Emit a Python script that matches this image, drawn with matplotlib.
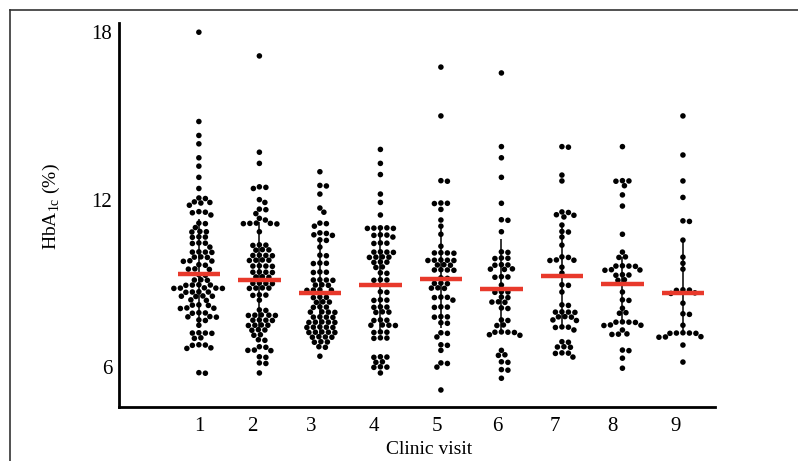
import numpy as np
import matplotlib
matplotlib.use('Agg')
import matplotlib.pyplot as plt
from matplotlib.lines import Line2D

# ------------------------------------------------------------
# DATA
# ------------------------------------------------------------
visits = [1, 2, 3, 4, 5, 6, 7, 8, 9]
tick_labels = ['1', '2', '3', '4', '5', '6', '7', '8', '9']

visit1 = [18.0, 14.8, 14.3, 14.0, 13.5, 13.2, 12.8, 12.4, 12.06, 12.04,
          11.92, 11.9, 11.88, 11.8, 11.57, 11.55, 11.53, 11.45, 11.16, 11.14,
          11.0, 10.86, 10.85, 10.84, 10.67, 10.66, 10.65, 10.45, 10.44, 10.43,
          10.3, 10.13, 10.12, 10.12, 10.11, 9.95, 9.94, 9.93, 9.81, 9.8,
          9.79, 9.67, 9.65, 9.52, 9.51, 9.5, 9.31, 9.29, 9.13, 9.12,
          9.11, 8.95, 8.94, 8.94, 8.93, 8.84, 8.83, 8.83, 8.82, 8.82,
          8.7, 8.69, 8.69, 8.68, 8.55, 8.54, 8.54, 8.53, 8.41, 8.39,
          8.23, 8.22, 8.21, 8.12, 8.11, 8.1, 7.95, 7.94, 7.93, 7.81,
          7.8, 7.79, 7.69, 7.67, 7.5, 7.23, 7.22, 7.22, 7.21, 7.05,
          7.03, 6.8, 6.79, 6.78, 6.69, 6.67, 5.8, 5.78]

visit2 = [17.15, 13.7, 13.3, 12.46, 12.44, 12.4, 12.0, 11.9, 11.66, 11.64,
          11.5, 11.33, 11.27, 11.16, 11.15, 11.15, 11.14, 11.13, 10.85, 10.38,
          10.37, 10.36, 10.21, 10.2, 10.19, 10.01, 10.0, 10.0, 9.99, 9.84,
          9.83, 9.83, 9.82, 9.63, 9.62, 9.62, 9.61, 9.41, 9.4, 9.4,
          9.39, 9.24, 9.23, 9.22, 9.01, 9.0, 9.0, 8.99, 8.84, 8.83,
          8.83, 8.82, 8.59, 8.58, 8.57, 8.4, 8.05, 8.03, 7.87, 7.86,
          7.86, 7.85, 7.85, 7.69, 7.68, 7.68, 7.67, 7.51, 7.5, 7.5,
          7.49, 7.34, 7.33, 7.32, 7.16, 7.14, 6.98, 6.96, 6.73, 6.71,
          6.61, 6.6, 6.59, 6.37, 6.35, 6.15, 6.13, 5.79]

visit3 = [13.0, 12.51, 12.49, 12.2, 11.7, 11.55, 11.16, 11.14, 11.05, 10.81,
          10.79, 10.74, 10.72, 10.56, 10.54, 10.3, 10.01, 9.99, 9.73, 9.72,
          9.71, 9.41, 9.4, 9.39, 9.13, 9.12, 9.12, 9.11, 8.95, 8.94,
          8.93, 8.77, 8.76, 8.76, 8.75, 8.51, 8.5, 8.49, 8.34, 8.33,
          8.32, 8.16, 8.15, 8.14, 7.98, 7.97, 7.97, 7.96, 7.8, 7.79,
          7.79, 7.78, 7.62, 7.61, 7.61, 7.6, 7.6, 7.44, 7.43, 7.43,
          7.42, 7.42, 7.26, 7.25, 7.25, 7.24, 7.24, 7.09, 7.08, 7.07,
          7.07, 6.91, 6.9, 6.89, 6.73, 6.71, 6.39]

visit4 = [13.8, 13.3, 12.9, 12.2, 11.9, 11.45, 10.99, 10.98, 10.97, 10.66,
          10.99, 10.97, 10.74, 10.73, 10.72, 10.45, 10.44, 10.43, 10.13, 10.12,
          10.12, 10.11, 9.95, 9.94, 9.94, 9.93, 9.77, 9.76, 9.75, 9.59,
          9.57, 9.38, 9.36, 9.13, 9.12, 9.11, 8.7, 8.68, 8.41, 8.4,
          8.39, 8.16, 8.15, 8.14, 7.98, 7.97, 7.96, 7.69, 7.68, 7.67,
          7.51, 7.5, 7.5, 7.49, 7.26, 7.25, 7.24, 7.05, 7.04, 7.03,
          6.37, 6.36, 6.35, 6.19, 6.17, 6.01, 6.0, 5.99, 5.79]

visit5 = [16.75, 15.0, 12.68, 12.66, 11.88, 11.87, 11.86, 11.65, 11.27, 11.05,
          10.76, 10.33, 10.1, 10.09, 10.09, 10.08, 9.84, 9.83, 9.83, 9.82,
          9.82, 9.67, 9.66, 9.65, 9.49, 9.48, 9.48, 9.47, 9.2, 9.18,
          9.01, 9.0, 8.99, 8.84, 8.83, 8.82, 8.51, 8.5, 8.49, 8.4,
          8.16, 8.15, 8.14, 7.81, 7.8, 7.79, 7.59, 7.57, 7.23, 7.21,
          7.08, 6.8, 6.78, 6.6, 6.15, 6.13, 6.0, 5.18]

visit6 = [16.54, 13.9, 13.5, 12.8, 11.87, 11.28, 11.26, 10.85, 10.13, 10.11,
          9.91, 9.9, 9.89, 9.67, 9.66, 9.65, 9.52, 9.51, 9.5, 9.24,
          9.23, 9.22, 8.94, 8.7, 8.69, 8.68, 8.51, 8.49, 8.34, 8.33,
          8.32, 8.12, 8.1, 7.69, 7.67, 7.51, 7.49, 7.26, 7.25, 7.25,
          7.24, 7.16, 7.14, 6.6, 6.44, 6.42, 6.19, 6.17, 5.91, 5.89,
          5.6]

visit7 = [13.9, 13.88, 12.88, 12.67, 11.56, 11.54, 11.46, 11.44, 11.38, 11.09,
          10.86, 10.84, 10.66, 10.37, 9.95, 9.93, 9.84, 9.83, 9.82, 9.58,
          9.37, 8.95, 8.93, 8.69, 8.23, 8.21, 7.98, 7.97, 7.97, 7.96,
          7.81, 7.8, 7.79, 7.69, 7.67, 7.44, 7.43, 7.42, 7.33, 6.91,
          6.89, 6.73, 6.72, 6.71, 6.51, 6.5, 6.49, 6.36]

visit8 = [13.9, 12.68, 12.67, 12.66, 12.5, 12.17, 11.77, 10.76, 10.12, 9.95,
          9.93, 9.63, 9.62, 9.62, 9.61, 9.49, 9.48, 9.47, 9.31, 9.3,
          9.29, 9.13, 9.11, 8.69, 8.41, 8.39, 8.11, 7.95, 7.93, 7.62,
          7.61, 7.61, 7.6, 7.51, 7.5, 7.49, 7.33, 7.19, 7.18, 7.17,
          6.61, 6.59, 6.32, 5.96]

visit9 = [15.0, 13.6, 12.67, 12.08, 11.24, 11.22, 10.55, 9.94, 9.72, 9.51,
          8.77, 8.76, 8.75, 8.66, 8.64, 8.29, 7.91, 7.89, 7.5, 7.23,
          7.22, 7.22, 7.21, 7.21, 7.09, 7.08, 7.07, 6.79, 6.18]

groups = [visit1, visit2, visit3, visit4, visit5, visit6, visit7, visit8, visit9]

# red median bars and black spread bars
medians = [9.33, 9.12, 8.65, 8.94, 9.15, 8.8, 9.26, 8.97, 8.65]
spread_low = [7.4, 7.3, 7.1, 7.2, 7.4, 7.2, 7.4, 7.58, 7.22]
spread_high = [11.3, 11.2, 10.6, 10.9, 11.0, 10.6, 11.09, 9.94, 10.55]

# ------------------------------------------------------------
# LAYOUT
# ------------------------------------------------------------
W, H = 798, 461
TICK_POS = [1.0, 1.89, 2.85, 3.89, 4.93, 5.94, 6.88, 7.83, 8.87]
SERIF = ['Liberation Serif', 'DejaVu Serif']

plt.rcParams['font.family'] = SERIF
plt.rcParams['mathtext.fontset'] = 'custom'
plt.rcParams['mathtext.rm'] = 'Liberation Serif'

fig = plt.figure(figsize=(W / 100, H / 100), dpi=100)
ax = fig.add_axes([119 / W, 1 - 407 / H, (715 - 119) / W, (407 - 23) / H])
ax.set_xlim(-0.32, 9.53)
ax.set_ylim(4.57, 18.33)


def swarm_offsets(vals, ax, wx=6.2, wy=5.2):
    """Greedy beeswarm in pixel space; returns x offsets in data units."""
    p0 = ax.transData.transform((0, 0))
    p1 = ax.transData.transform((1, 1))
    sx, sy = p1[0] - p0[0], p1[1] - p0[1]
    ys = np.asarray(vals) * sy
    order = np.argsort(-ys)
    placed = []
    offs = np.zeros(len(vals))
    cands = [0]
    for k in range(1, 80):
        cands += [k * 0.5, -k * 0.5]
    for i in order:
        y = ys[i]
        for c in cands:
            ok = True
            for (px, py) in placed:
                if ((c - px) / wx) ** 2 + ((y - py) / wy) ** 2 < 1.0:
                    ok = False
                    break
            if ok:
                break
        placed.append((c, y))
        offs[i] = c / sx
    return offs


for xv, vals, lo, hi in zip(visits, groups, spread_low, spread_high):
    ax.vlines(xv, lo, hi, color='black', linewidth=1.1, zorder=2)
    offs = swarm_offsets(vals, ax)
    ax.scatter(xv + offs, vals, s=16, color='black', edgecolors='none', zorder=3)

ax.hlines(medians, np.array(visits) - 0.35, np.array(visits) + 0.35,
          color='#e8392b', linewidth=3.2, zorder=4)

ax.set_yticks([6, 12, 18])
ax.set_yticklabels(['6', '12', '18'])
ax.set_xticks(TICK_POS)
ax.set_xticklabels(tick_labels)
ax.tick_params(axis='both', length=0, labelsize=15)
ax.tick_params(axis='x', pad=7)
ax.tick_params(axis='y', pad=5)

for side in ('top', 'right'):
    ax.spines[side].set_visible(False)
for side in ('left', 'bottom'):
    ax.spines[side].set_linewidth(2.0)

fig.text(429 / W, 1 - 449 / H, 'Clinic visit', ha='center', va='center', fontsize=14)
fig.text(51 / W, 1 - 207 / H, r'HbA$_{\mathregular{1c}}$ (%)', ha='center', va='center',
         rotation=90, fontsize=14)

# outer frame (cropped at the right and bottom)
fig.add_artist(Line2D([10 / W, 10 / W], [1 - 10 / H, 0], transform=fig.transFigure,
                      color='#333333', linewidth=1.2))
fig.add_artist(Line2D([10 / W, 1], [1 - 10 / H, 1 - 10 / H], transform=fig.transFigure,
                      color='#333333', linewidth=1.2))

fig.savefig('out.png', dpi=100)
